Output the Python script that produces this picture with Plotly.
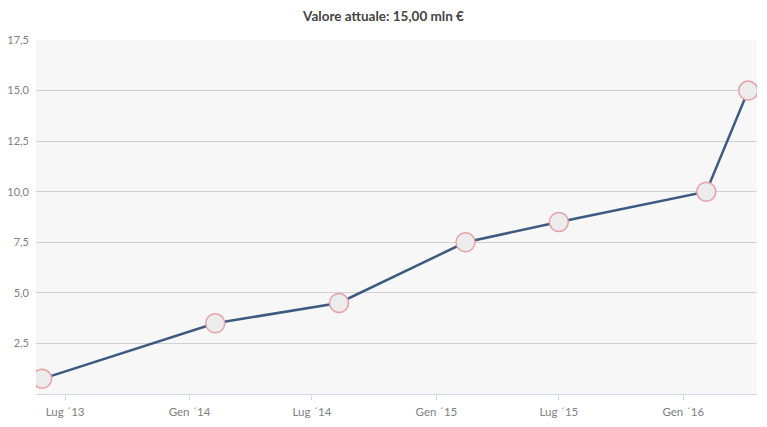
import plotly.graph_objects as go

dates = ["2013-05-28", "2014-02-08", "2014-08-10", "2015-02-13", "2015-07-01", "2016-02-04", "2016-04-06"]
values = [0.75, 3.5, 4.5, 7.5, 8.5, 10.0, 15.0]
tick_dates = ["2013-07-01", "2014-01-01", "2014-07-01", "2015-01-01", "2015-07-01", "2016-01-01"]
tick_labels = ["Lug ´13", "Gen ´14", "Lug ´14", "Gen ´15", "Lug ´15", "Gen ´16"]
y_ticks = [2.5, 5.0, 7.5, 10.0, 12.5, 15.0, 17.5]

fig = go.Figure()
fig.add_trace(go.Scatter(
    x=dates, y=values, mode="lines+markers",
    line=dict(color="#3d5a80", width=2.5),
    marker=dict(size=19, color="#ececec", symbol="circle",
                line=dict(color="#e8a0a8", width=1.5)),
    showlegend=False,
))

fig.update_layout(
    width=767, height=427,
    margin=dict(l=36, r=10, t=40, b=33),
    paper_bgcolor="white",
    plot_bgcolor="#f7f7f7",
    separators=",.",
    title=dict(text="<b>Valore attuale: 15,00 mln €</b>", x=0.5, xanchor="center",
               y=0.962, yanchor="middle",
               font=dict(family="Lato", size=13.5, color="#444")),
    font=dict(family="Lato", size=11, color="#777"),
)
fig.update_xaxes(
    range=["2013-05-19", "2016-04-19"],
    tickvals=tick_dates, ticktext=tick_labels,
    showgrid=False, showline=True, linecolor="#cfdde3", linewidth=1,
    ticks="outside", ticklen=5, tickcolor="#cfdde3",
    ticklabelstandoff=2, automargin=False,
    tickfont=dict(family="Lato", size=11.5, color="#808080"),
    zeroline=False,
)
fig.update_yaxes(
    range=[0, 17.5], tickvals=y_ticks, tickformat=".1f",
    showgrid=True, gridcolor="#d0d0d0", gridwidth=1,
    zeroline=False, showline=False,
    ticklabelstandoff=6, automargin=False,
    tickfont=dict(family="Lato", size=11, color="#808080"),
)

fig.write_html("out.html")
